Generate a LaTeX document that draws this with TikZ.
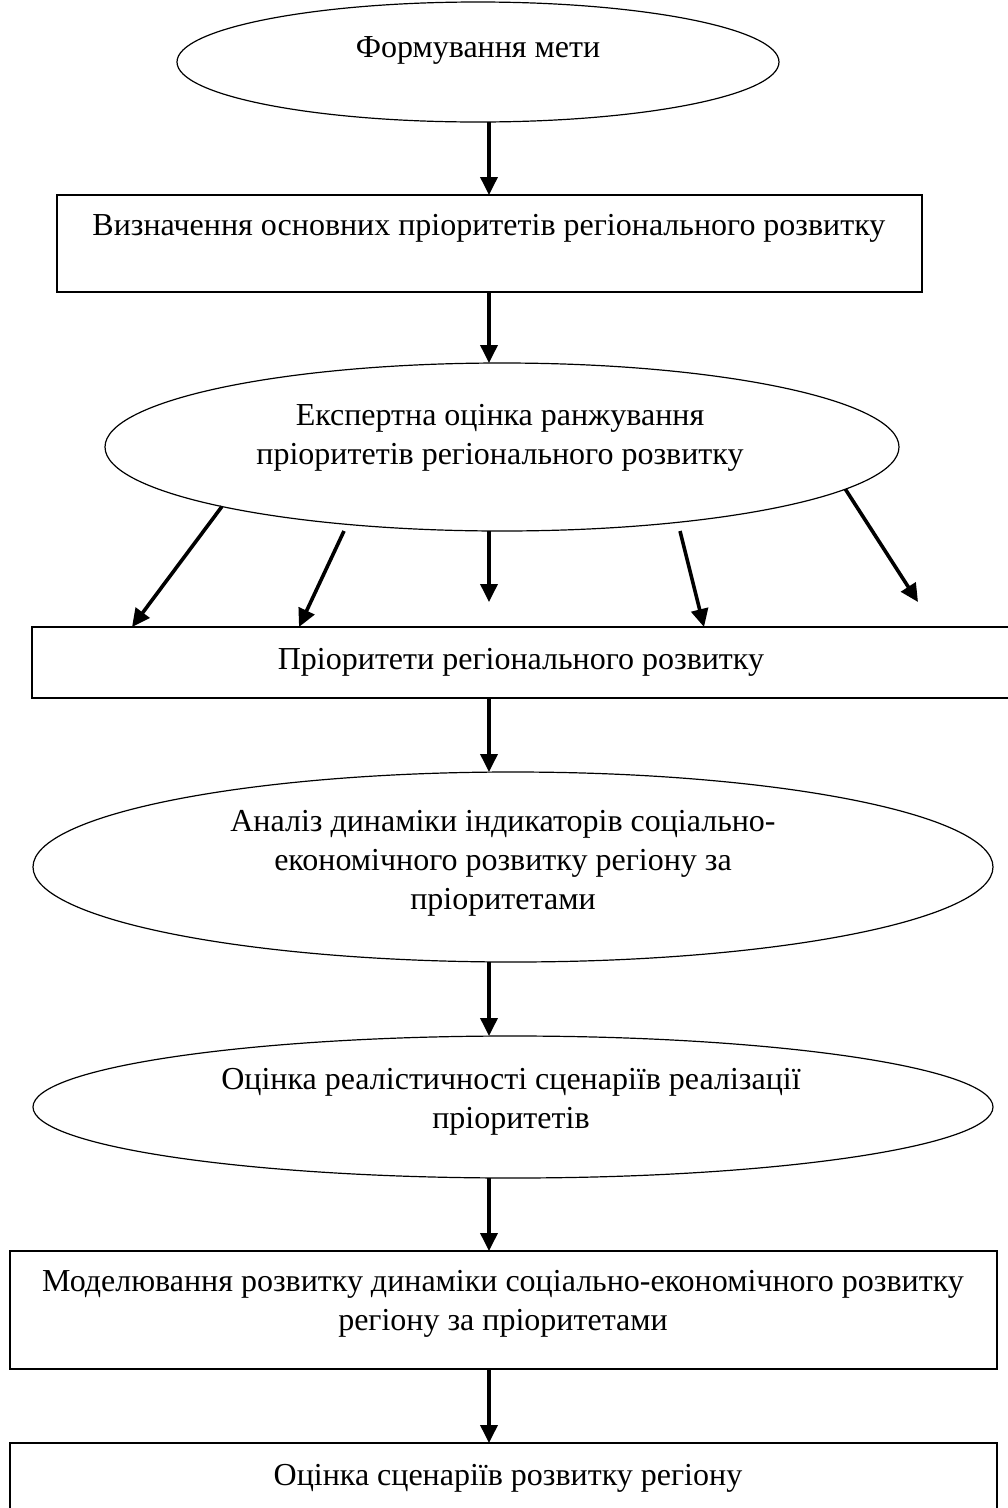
\documentclass[tikz,border=0pt]{standalone}
\usepackage{fontspec}
\setmainfont{Liberation Serif}
\usetikzlibrary{arrows.meta,shapes.geometric}
\begin{document}
\begin{tikzpicture}[x=1pt,y=-1pt,
  shp/.style={draw=black,line width=1.2pt,inner sep=0pt,outer sep=0pt,fill=none},
  ell/.style={shp,ellipse},
  boxx/.style={shp,rectangle},
  txt/.style={font=\fontsize{32}{39}\selectfont,align=center,inner sep=0pt},
  arr/.style={line width=3.6pt,-{Triangle[width=17pt,length=18pt]}}]
\useasboundingbox (0,0) rectangle (1008,1508);
\begin{scope}
\clip (0,0) rectangle (1008,1508);
% shapes
\node[ell,minimum width=602pt,minimum height=120pt] (e1) at (478,62) {};
\node[boxx,minimum width=865pt,minimum height=97pt] (b1) at (489.5,243.5) {};
\node[ell,minimum width=794pt,minimum height=168pt] (e2) at (502,447) {};
\node[boxx,minimum width=980pt,minimum height=71pt] (b2) at (522,662.5) {};
\node[ell,minimum width=960pt,minimum height=190pt] (e3) at (513,867) {};
\node[ell,minimum width=960pt,minimum height=142pt] (e4) at (513,1107) {};
\node[boxx,minimum width=987pt,minimum height=118pt] (b3) at (503.5,1310) {};
\node[boxx,minimum width=987pt,minimum height=97pt] (b4) at (503.5,1491.5) {};
% texts
\node[txt] (t1) at (478,50) {Формування мети};
\node[txt] (t2) at (489,228) {Визначення основних пріоритетів регіонального розвитку};
\node[txt] (t3) at (500,437.5) {Експертна оцінка ранжування\\пріоритетів регіонального розвитку};
\node[txt] (t4) at (521,662) {Пріоритети регіонального розвитку};
\node[txt] (t5) at (503,863) {Аналіз динаміки індикаторів соціально-\\економічного розвитку регіону за\\пріоритетами};
\node[txt] (t6) at (511,1102) {Оцінка реалістичності сценаріїв реалізації\\пріоритетів};
\node[txt] (t7) at (503,1304) {Моделювання розвитку динаміки соціально-економічного розвитку\\регіону за пріоритетами};
\node[txt] (t8) at (508,1478) {Оцінка сценаріїв розвитку регіону};
% helper coordinates
\coordinate (ax) at (489,0);
\coordinate (bx) at (344,0);
\coordinate (dx) at (680,0);
\coordinate (aend) at (132,0);
\coordinate (bend) at (299,0);
\coordinate (dend) at (704,0);
\coordinate (cend) at (489,602);
\coordinate (eend) at (918,602);
% connectors
\draw[arr] (e1.south -| ax) -- (b1.north -| ax);
\draw[arr] (b1.south -| ax) -- (e2.north -| ax);
\draw[arr] (e2.192) -- (b2.north -| aend);
\draw[arr] (e2.south -| bx) -- (b2.north -| bend);
\draw[arr] (e2.south -| ax) -- (cend);
\draw[arr] (e2.south -| dx) -- (b2.north -| dend);
\draw[arr] (e2.353) -- (eend);
\draw[arr] (b2.south -| ax) -- (e3.north -| ax);
\draw[arr] (e3.south -| ax) -- (e4.north -| ax);
\draw[arr] (e4.south -| ax) -- (b3.north -| ax);
\draw[arr] (b3.south -| ax) -- (b4.north -| ax);
\end{scope}
\end{tikzpicture}
\end{document}
